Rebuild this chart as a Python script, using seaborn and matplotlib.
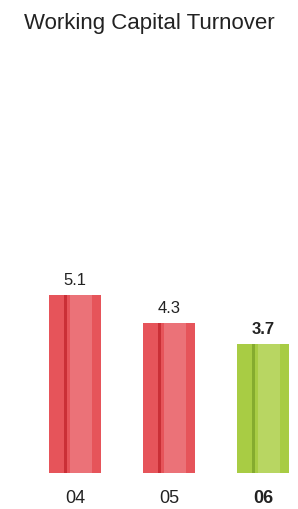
import matplotlib
matplotlib.use("Agg")
import matplotlib.pyplot as plt
import seaborn as sns
import pandas as pd
import numpy as np

years = ["04", "05", "06"]
turnover = [5.1, 4.3, 3.7]
value_labels = ["5.1", "4.3", "3.7"]

base_colors = ["#e6545a", "#e6545a", "#a8cc44"]
light_colors = ["#f08c92", "#f08c92", "#c6e07c"]
dark_colors = ["#c4262d", "#c4262d", "#7da32a"]

sns.set_style("white")
plt.rcParams["font.family"] = ["Liberation Sans", "DejaVu Sans"]

df = pd.DataFrame({"year": years, "turnover": turnover})

fig = plt.figure(figsize=(2.98, 5.09), dpi=100)
ax = fig.add_axes([0, 36 / 509, 1, 413 / 509])

sns.barplot(data=df, x="year", y="turnover", hue="year", palette=base_colors,
            width=0.55, legend=False, ax=ax, saturation=1, linewidth=0)

# cylinder shading
x = np.arange(len(years))
ax.bar(x + 0.06, turnover, width=0.24, color=light_colors, alpha=0.55,
       linewidth=0, zorder=3)
ax.bar(x - 0.10, turnover, width=0.035, color=dark_colors, alpha=0.8,
       linewidth=0, zorder=4)

for i, (v, lab) in enumerate(zip(turnover, value_labels)):
    bold = i == len(years) - 1
    ax.text(i, v + 0.2, lab, ha="center", va="bottom", fontsize=12,
            fontweight="bold" if bold else "normal", color="#222222")

ax.set_xlim(-0.8, 2.37)
ax.set_ylim(0, 11.83)
ax.set_xlabel("")
ax.set_ylabel("")
ax.set_yticks([])
ax.tick_params(axis="x", length=0, pad=12, labelsize=13, labelcolor="#222222")
for i, t in enumerate(ax.get_xticklabels()):
    if i == len(years) - 1:
        t.set_fontweight("bold")
sns.despine(ax=ax, left=True, bottom=True)

fig.text(0.5, 1 - 24 / 509, "Working Capital Turnover", ha="center", va="center",
         fontsize=16, color="#222222")

fig.savefig("out.png", dpi=100)
